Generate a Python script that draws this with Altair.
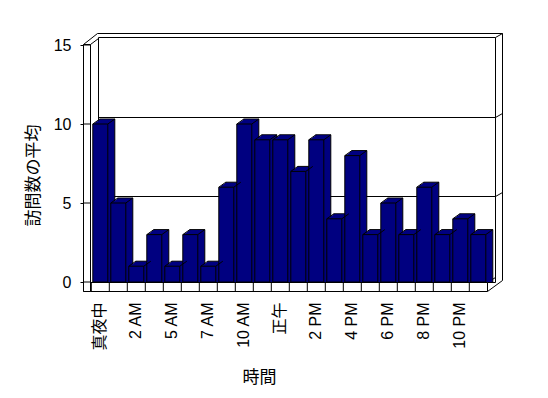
import altair as alt
import pandas as pd

# ---- data ----
categories = ["真夜中", "1 AM", "2 AM", "3 AM", "5 AM", "6 AM", "7 AM", "8 AM",
              "10 AM", "11 AM", "正午", "1 PM", "2 PM", "3 PM", "4 PM", "5 PM",
              "6 PM", "7 PM", "8 PM", "9 PM", "10 PM", "11 PM"]
values = [10, 5, 1, 3, 1, 3, 1, 6, 10, 9, 9, 7, 9, 4, 8, 3, 5, 3, 6, 3, 4, 3]
shown_labels = categories[::2]
y_ticks = [0, 5, 10, 15]
grid_values = [5, 10]
x_title = "時間"
y_title = "訪問数の平均"

df = pd.DataFrame({"hour": categories, "value": values})
grid_df = pd.DataFrame({"value": grid_values})
tick_df = pd.DataFrame({"value": y_ticks})
one = pd.DataFrame({"d": [0]})

# ---- layout (view origin on the page) ----
OX, OY = 83, 33
W, H = 419, 258
FONT = "Liberation Sans, Noto Sans CJK JP, sans-serif"
NAVY = "#000080"
DX, DY = 7, -5

xscale = alt.Scale(domain=categories, range=[91.3 - OX, 487.3 - OX],
                   paddingInner=0.167, paddingOuter=0.0835)
yscale = alt.Scale(domain=[0, 15], range=[282 - OY, 45 - OY], nice=False)

xenc = alt.X("hour:N", scale=xscale, sort=categories,
             axis=alt.Axis(values=shown_labels, labelAngle=270, labelAlign="right",
                           labelBaseline="middle", labelPadding=11, ticks=False,
                           domain=False, labelFont=FONT, labelFontSize=16,
                           labelColor="black", title=x_title, titleFont=FONT,
                           titleFontSize=17, titleFontWeight="normal",
                           titleColor="black", titleX=176, titleY=86,
                           titleAlign="center", titleBaseline="middle"))
yenc = alt.Y("value:Q", scale=yscale,
             axis=alt.Axis(values=y_ticks, domain=False, ticks=True, tickSize=3,
                           tickColor="black", grid=False, labelPadding=9,
                           labelFont=FONT, labelFontSize=16, labelColor="black",
                           title=y_title, titleFont=FONT, titleFontSize=17,
                           titleFontWeight="normal", titleColor="black",
                           titleAngle=270, titleX=-50, titleY=142,
                           titleAlign="center", titleBaseline="middle"))


def seg(x1, y1, x2, y2):
    return alt.Chart(one).mark_rule(color="black", strokeWidth=1).encode(
        x=alt.value(x1 - OX + 0.5), y=alt.value(y1 - OY + 0.5),
        x2=alt.value(x2 - OX + 0.5), y2=alt.value(y2 - OY + 0.5))


def box(x1, y1, x2, y2, fill="white"):
    return alt.Chart(one).mark_rect(fill=fill, stroke="black", strokeWidth=1).encode(
        x=alt.value(x1 - OX + 0.5), y=alt.value(y1 - OY + 0.5),
        x2=alt.value(x2 - OX + 0.5), y2=alt.value(y2 - OY + 0.5))


# back wall and walls
back_wall = box(98, 37, 495, 282)
frame = [
    seg(97, 33, 502, 33),
    seg(502, 33, 502, 280),
    seg(495, 37, 502, 33),
    seg(83, 44, 97, 33),
    seg(90, 44, 98, 38),
    seg(487, 291, 502, 280),
    seg(487, 282, 495, 277),
]

grid = alt.Chart(grid_df).mark_rule(color="black", strokeWidth=1, yOffset=-6.5).encode(
    y=yenc, x=alt.value(98 - OX + 0.5), x2=alt.value(495 - OX + 0.5))
grid_diag = alt.Chart(grid_df).mark_rule(color="black", strokeWidth=1, yOffset=-6.5,
                                         y2Offset=-10.5).encode(
    y=yenc, y2=alt.Y2("value"),
    x=alt.value(495 - OX + 0.5), x2=alt.value(502 - OX + 0.5))

base = alt.Chart(df)
bar_back = base.mark_bar(fill=NAVY, stroke="black", strokeWidth=1,
                         xOffset=DX, yOffset=DY).encode(x=xenc, y=yenc, y2=alt.datum(0))
bar_fill = [base.mark_bar(fill=NAVY, strokeWidth=0, xOffset=k, yOffset=k * DY / DX).encode(
    x=xenc, y=yenc, y2=alt.datum(0)) for k in [1, 2, 3, 4, 5, 6]]
bar_front = base.mark_bar(fill=NAVY, stroke="black", strokeWidth=1).encode(
    x=xenc, y=yenc, y2=alt.datum(0))

# diagonal edges of the bar prisms (top-left and top-right)
half = 7.5
diag_tl = base.mark_rule(color="black", strokeWidth=1,
                         xOffset=-half, x2Offset=-half + DX, y2Offset=DY).encode(
    x=xenc, x2=alt.X2("hour"), y=yenc, y2=alt.Y2("value"))
diag_tr = base.mark_rule(color="black", strokeWidth=1,
                         xOffset=half, x2Offset=half + DX, y2Offset=DY).encode(
    x=xenc, x2=alt.X2("hour"), y=yenc, y2=alt.Y2("value"))

floor = box(83, 282, 487, 291)
dividers = base.mark_rule(color="black", strokeWidth=1, xOffset=-9).encode(
    x=xenc, y=alt.value(282 - OY + 0.5), y2=alt.value(291 - OY + 0.5))
left_wall = box(83, 44, 90, 291)
tick_cross = alt.Chart(tick_df).mark_rule(color="black", strokeWidth=1).encode(
    y=yenc, x=alt.value(0.5), x2=alt.value(90 - OX + 0.5))

chart = alt.layer(
    back_wall, *frame, grid, grid_diag,
    bar_back, *bar_fill, bar_front, diag_tl, diag_tr,
    floor, dividers, left_wall, tick_cross,
).properties(
    width=W, height=H,
    autosize=alt.AutoSizeParams(type="none"),
    padding={"left": 75, "top": 25, "right": 548 - 16 - 75 - W,
             "bottom": 398 - 16 - 25 - H},
    background="white",
).configure_view(stroke=None)

chart.save("out.html", embed_options={"renderer": "svg", "actions": False})
